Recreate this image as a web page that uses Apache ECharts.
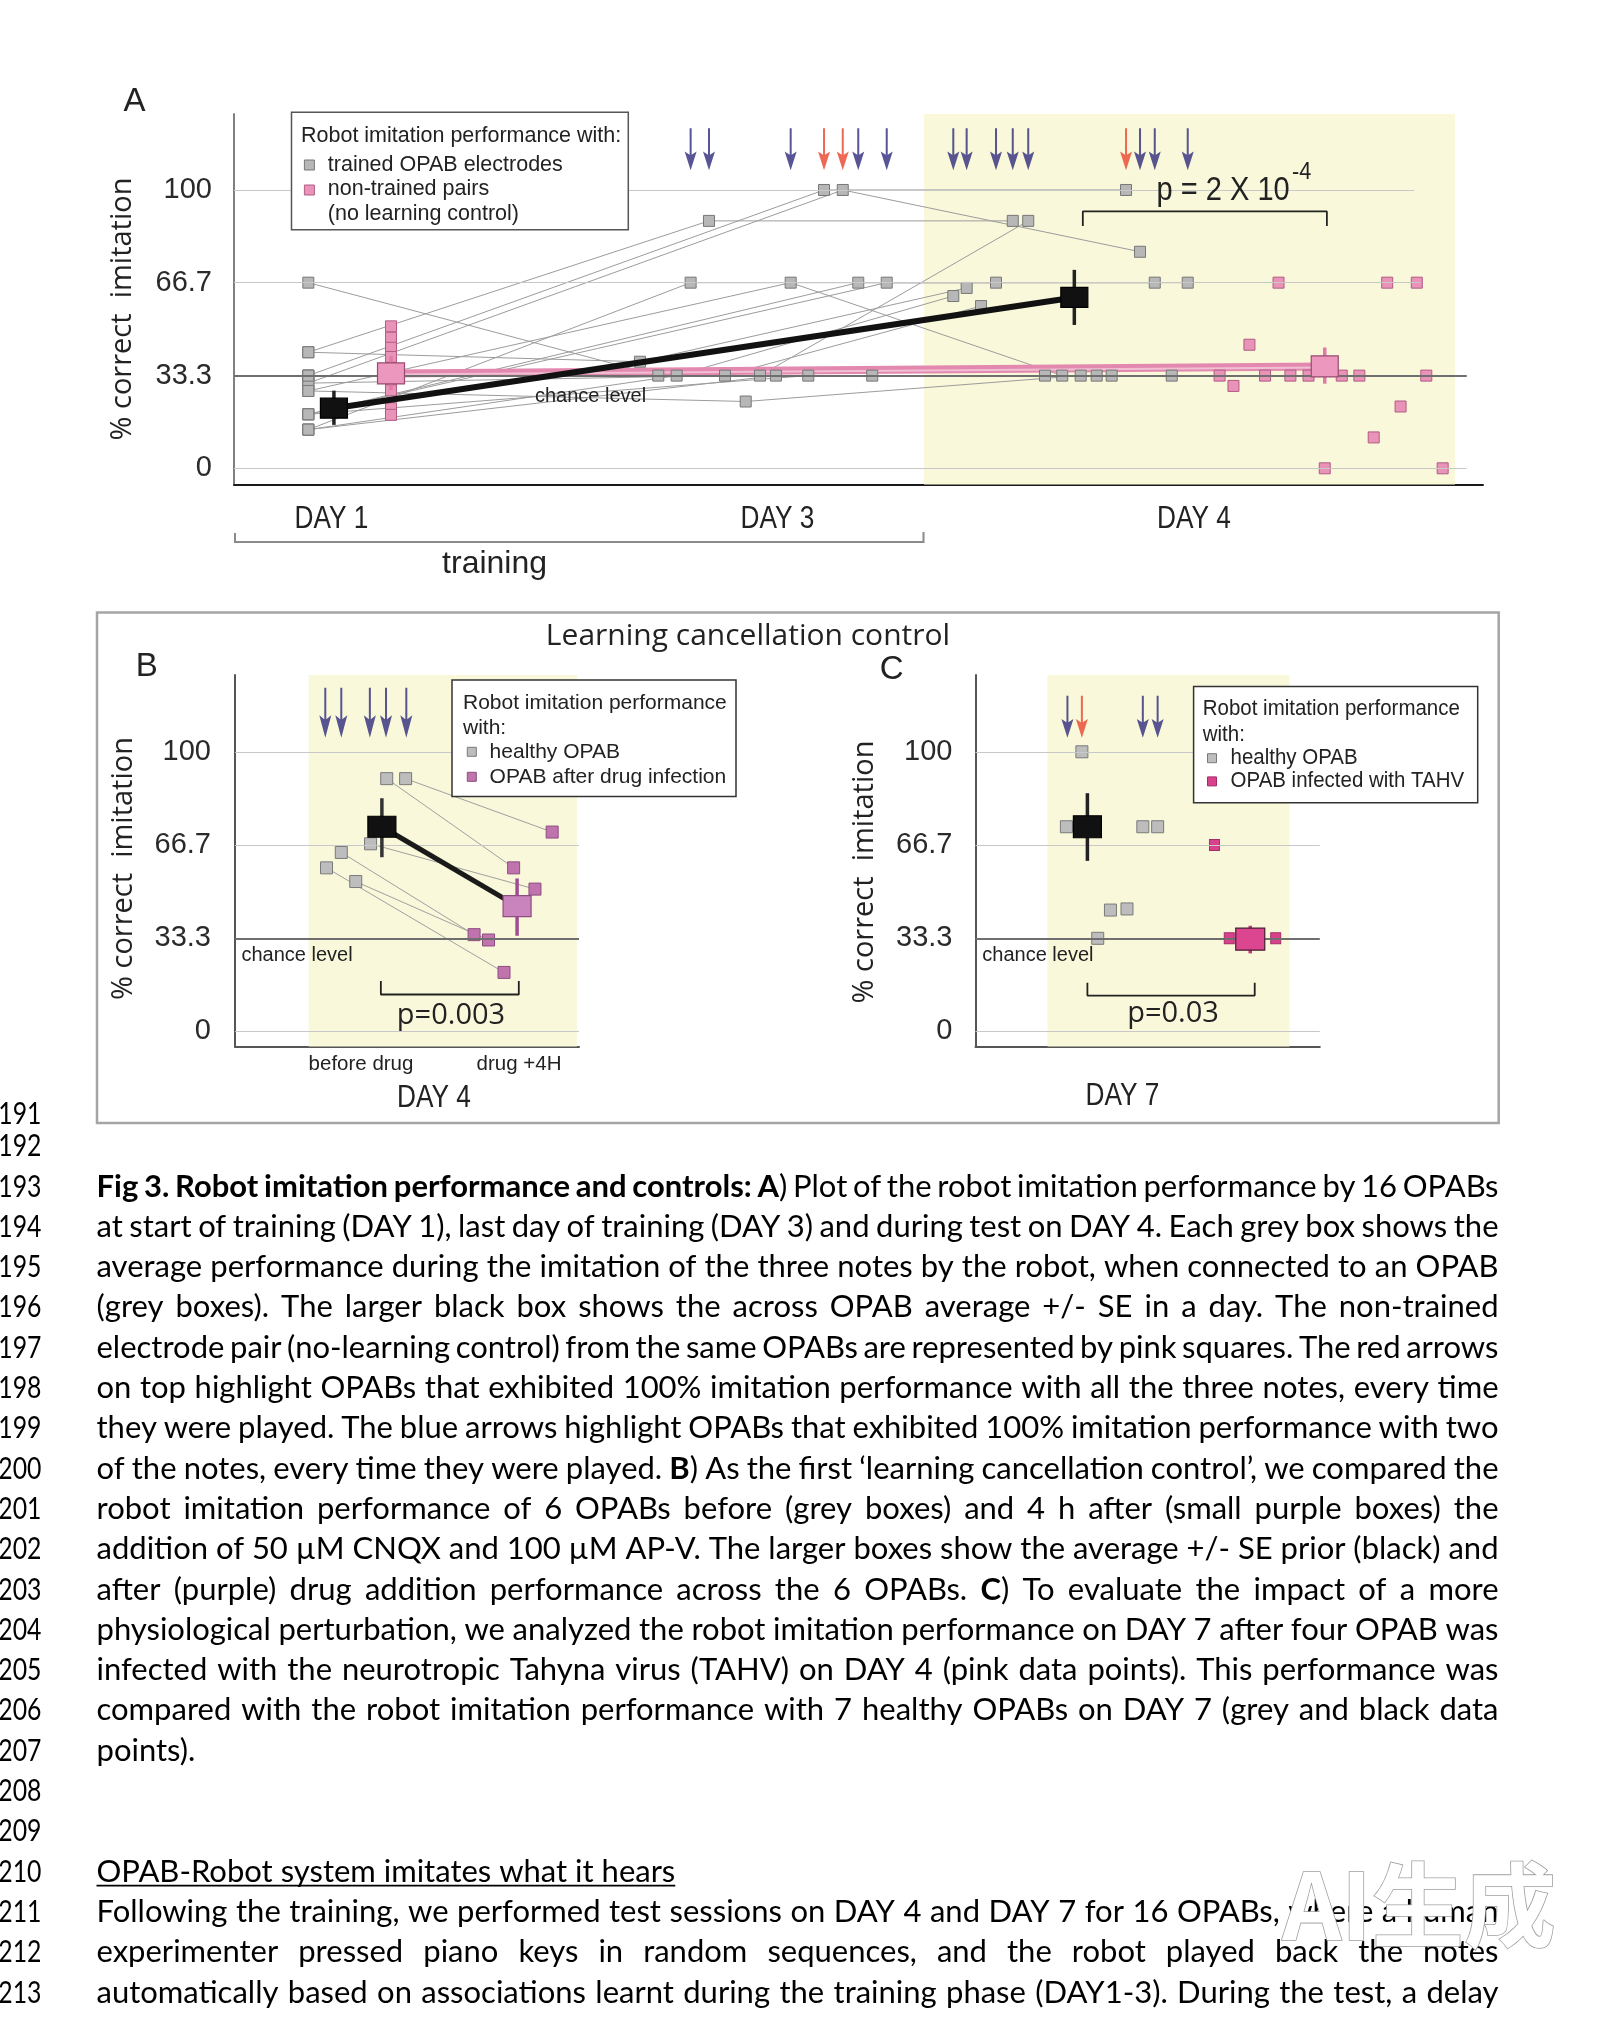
<!DOCTYPE html>
<html>
<head>
<meta charset="utf-8">
<style>
html, body { margin: 0; padding: 0; background: #fff; overflow: hidden; }
#chart { width: 1620px; height: 2025px; }
</style>
<script src="https://cdn.jsdelivr.net/npm/echarts@6/dist/echarts.min.js"></script>
</head>
<body>
<div id="chart"></div>
<script>
// panel A: x is position along the axis (0-100), y is % correct imitation
const dayOneX = 5.95
const dayOneGrey = [33.3, 30.6, 41.7, 33.3, 66.7, 13.9, 27.8, 19.4, 19.4, 41.7, 13.9, 30.6, 27.8, 13.9, 19.4, 33.3]
const dayThreeX = [47.24, 48.74, 38.03, 42.11, 33.97, 36.56, 44.57, 49.98, 52.26, 32.5, 35.44, 39.31, 40.97, 43.39, 45.98, 51.1]
const dayThreeGrey = [100, 100, 88.9, 33.3, 33.3, 66.7, 66.7, 66.7, 66.7, 38.3, 33.3, 33.3, 24.0, 33.3, 33.3, 33.3]
const dayFourX = [71.42, 72.54, 62.35, 63.59, 64.93, 73.72, 66.31, 76.36, 61.01, 58.66, 57.59, 59.81, 67.79, 69.07, 70.27, 75.08]
const dayFourGrey = [100, 77.8, 88.9, 88.9, 33.3, 66.7, 33.3, 66.7, 66.7, 64.8, 61.9, 58.3, 33.3, 33.3, 33.3, 33.3]
const pinkDayOneX = 12.57
const pinkDayOne = [51.0, 46.9, 43.3, 40.0, 36.1, 33.3, 30.6, 28.0, 21.6, 19.2]
const pinkDayFourX = [78.91, 80.02, 81.3, 82.55, 83.63, 84.58, 86.03, 87.33, 88.69, 90.1, 91.25, 92.33, 93.4, 94.7, 95.46, 96.77]
const pinkDayFour = [33.3, 29.6, 44.4, 33.3, 66.7, 33.3, 33.3, 0, 33.3, 33.3, 11.1, 66.7, 22.2, 66.7, 33.3, 0]
// [x, mean, low, high]
const greyMeansA = [[8.0, 21.6, 15.6, 27.9], [67.28, 61.4, 51.5, 71.3]]
const pinkMeansA = [[12.57, 34.1, 28.1, 40.3], [87.33, 36.6, 30.4, 43.4]]
const arrowsAX = [36.56, 38.03, 44.57, 47.24, 48.74, 49.98, 52.26, 57.59, 58.66, 61.01, 62.35, 63.59, 71.42, 72.54, 73.72, 76.36]
const arrowsAKind = ['b', 'b', 'b', 'r', 'r', 'b', 'b', 'b', 'b', 'b', 'b', 'b', 'r', 'b', 'b', 'b']
const bracketA = { x: [67.96, 87.5], bar: 92.3, tick: 87.1 }

// panel B
const beforeX = [44.1, 49.6, 39.4, 30.9, 26.6, 35.1]
const beforeY = [90.4, 90.4, 67.1, 64.0, 58.5, 53.6]
const afterX = [81.0, 92.2, 87.2, 69.5, 78.2, 73.7]
const afterY = [58.5, 71.3, 50.9, 34.6, 21.1, 32.7]
const blackMeanB = [42.7, 73.2, 62.3, 83.4]
const purpleMeanB = [82.0, 44.8, 34.2, 54.7]
const arrowsBX = [26.25, 30.9, 39.2, 43.9, 49.8]
const bracketB = { x: [42.4, 82.5], bar: 13.2, tick: 18.0 }

// panel C
const healthyX = [30.9, 26.4, 48.6, 52.9, 39.2, 44.0, 35.5]
const healthyY = [100, 73.2, 73.2, 73.2, 43.4, 43.8, 33.3]
const infectedX = [69.4, 73.7, 79.8, 87.2]
const infectedY = [66.7, 33.3, 33.3, 33.3]
const blackMeanC = [32.5, 73.2, 61.0, 85.2]
const pinkMeanC = [79.8, 33.0, 27.9, 37.8]
const arrowsCX = [26.7, 30.9, 48.6, 52.9]
const arrowsCKind = ['b', 'r', 'b', 'b']
const bracketC = { x: [32.5, 81.1], bar: 12.8, tick: 17.4 }

const tickValues = [100, 66.7, 33.3, 0]
const tickLabels = ['100', '66.7', '33.3', '0']
const gridEnds = [[94.5, 95.0, 98.7, 98.7], [63.1, 100, 100, 100], [63.3, 100, 100, 100]]
const yellowBands = [[55.24, 97.76], [21.4, 99.4], [20.9, 91.2]]

const SANS = '"Liberation Sans", Arial, sans-serif'
const OPEN = '"Open Sans", sans-serif'
const BLUE = '#2e2a7c'
const RED = '#e8432b'
const yMin = [-5.82, -5.36, -5.36]
const yMax = [127.3, 127.47, 127.47]
const labelGap = [22, 24, 23]

const chart = echarts.init(document.getElementById('chart'))

function arrowPath(h) {
  const barb = h * 0.55, notch = h * 0.63
  return `path://M5,0 L7,0 L7,${notch} L12,${barb} L6,${h} L0,${barb} L5,${notch} Z`
}

function baseSeries(g) {
  return [{
    type: 'line', xAxisIndex: g, yAxisIndex: g, data: [], z: 0, silent: true,
    markArea: {
      silent: true, itemStyle: { color: '#f9f8da' },
      data: [[{ xAxis: yellowBands[g][0], yAxis: yMin[g] }, { xAxis: yellowBands[g][1], yAxis: yMax[g] }]]
    }
  }, {
    type: 'line', xAxisIndex: g, yAxisIndex: g, data: [], z: 1, silent: true,
    markLine: {
      silent: true, symbol: ['none', 'none'], animation: false,
      label: { show: true, position: 'start', formatter: '{b}', distance: labelGap[g], color: '#2a2a2a', fontSize: 29, fontFamily: SANS },
      data: tickValues.map((t, k) => [
        { name: tickLabels[k], coord: [0, t], lineStyle: t === 33.3 ? { color: '#6f6f6f', width: 1.8, type: 'solid' } : { color: '#c8c8c8', width: 1.2, type: 'solid' } },
        { coord: [gridEnds[g][k], t] }
      ])
    }
  }]
}

function squares(g, xs, ys, fill, stroke, size, z) {
  return {
    type: 'scatter', xAxisIndex: g, yAxisIndex: g, z: z || 4, silent: true,
    symbol: 'rect', symbolSize: size,
    itemStyle: { color: fill, borderColor: stroke, borderWidth: 1, opacity: 1 },
    data: xs.map((x, i) => [x, ys[i]])
  }
}

function meanBoxes(g, rows, fill, stroke, bar, w, h) {
  return {
    type: 'custom', xAxisIndex: g, yAxisIndex: g, z: 6, silent: true, data: rows,
    renderItem: (p, api) => {
      const c = api.coord([api.value(0), api.value(1)])
      const lo = api.coord([api.value(0), api.value(2)])
      const hi = api.coord([api.value(0), api.value(3)])
      return {
        type: 'group', children: [
          { type: 'line', shape: { x1: c[0], y1: lo[1], x2: c[0], y2: hi[1] }, style: { stroke: bar, lineWidth: 3.5 } },
          { type: 'rect', shape: { x: c[0] - w / 2, y: c[1] - h / 2, width: w, height: h }, style: { fill, stroke, lineWidth: 1.2 } }
        ]
      }
    }
  }
}

function arrows(g, xs, kinds, y, h) {
  return {
    type: 'scatter', xAxisIndex: g, yAxisIndex: g, z: 6, silent: true,
    symbol: arrowPath(h), symbolSize: [12, h],
    data: xs.map((x, i) => ({ value: [x, y], itemStyle: { color: kinds[i] === 'r' ? RED : BLUE } }))
  }
}

function bracket(g, b) {
  return {
    type: 'line', xAxisIndex: g, yAxisIndex: g, z: 6, silent: true, symbol: 'none',
    lineStyle: { color: '#222', width: 1.8 },
    data: [[b.x[0], b.tick], [b.x[0], b.bar], [b.x[1], b.bar], [b.x[1], b.tick]]
  }
}

function thinLine(g, pts, color) {
  return { type: 'line', xAxisIndex: g, yAxisIndex: g, z: 2, silent: true, symbol: 'none', lineStyle: { color: color || '#9c9c9c', width: 1 }, data: pts }
}

const series = []
// A
series.push(...baseSeries(0))
dayOneGrey.forEach((v, i) => {
  series.push(thinLine(0, [[dayOneX, v], [dayThreeX[i], dayThreeGrey[i]], [dayFourX[i], dayFourGrey[i]]]))
})
series.push({ type: 'line', xAxisIndex: 0, yAxisIndex: 0, z: 3, silent: true, symbol: 'none', lineStyle: { color: '#e389b0', width: 8 }, data: pinkMeansA.map(r => [r[0], r[1]]) })
series.push({ type: 'line', xAxisIndex: 0, yAxisIndex: 0, z: 3, silent: true, symbol: 'none', lineStyle: { color: '#f1bfd4', width: 2 }, data: pinkMeansA.map(r => [r[0], r[1] - 0.4]) })
series.push(squares(0, dayOneGrey.map(() => dayOneX).concat(dayThreeX, dayFourX), dayOneGrey.concat(dayThreeGrey, dayFourGrey), '#b7b7b7', '#777', 11))
series.push(squares(0, pinkDayOne.map(() => pinkDayOneX).concat(pinkDayFourX), pinkDayOne.concat(pinkDayFour), '#ea93b9', '#b05c83', 11))
series.push({ type: 'line', xAxisIndex: 0, yAxisIndex: 0, z: 5, silent: true, symbol: 'none', lineStyle: { color: '#111', width: 6 }, data: greyMeansA.map(r => [r[0], r[1]]) })
series.push(meanBoxes(0, greyMeansA, '#111', '#000', '#222', 27, 20))
series.push(meanBoxes(0, pinkMeansA, '#ec97bd', '#9b4a70', '#e07aa8', 27, 21))
series.push(arrows(0, arrowsAX, arrowsAKind, 114.6, 42))
series.push(bracket(0, bracketA))
// B
series.push(...baseSeries(1))
beforeX.forEach((x, i) => series.push(thinLine(1, [[x, beforeY[i]], [afterX[i], afterY[i]]], '#a0a0a0')))
series.push(squares(1, beforeX, beforeY, '#bdbdbd', '#7a7a7a', 12))
series.push(squares(1, afterX, afterY, '#bf74ae', '#8e4c80', 12))
series.push({ type: 'line', xAxisIndex: 1, yAxisIndex: 1, z: 5, silent: true, symbol: 'none', lineStyle: { color: '#1a1a1a', width: 5 }, data: [[blackMeanB[0], blackMeanB[1]], [purpleMeanB[0], purpleMeanB[1]]] })
series.push(meanBoxes(1, [blackMeanB], '#111', '#000', '#333', 28, 21))
series.push(meanBoxes(1, [purpleMeanB], '#c983bd', '#8e4c80', '#a14b92', 28, 21))
series.push(arrows(1, arrowsBX, arrowsBX.map(() => 'b'), 114, 50))
series.push(bracket(1, bracketB))
// C
series.push(...baseSeries(2))
series.push(squares(2, healthyX, healthyY, '#bdbdbd', '#7a7a7a', 12))
series.push(squares(2, infectedX, infectedY, '#d8428c', '#a52c68', [10, 11]))
series.push(meanBoxes(2, [blackMeanC], '#111', '#000', '#222', 28, 22))
series.push(meanBoxes(2, [pinkMeanC], '#dc4690', '#4a1a30', '#c03a7c', 29, 22))
series.push(arrows(2, arrowsCX, arrowsCKind, 112.5, 42))
series.push(bracket(2, bracketC))

function txt(x, y, text, o) {
  o = o || {}
  const align = o.align || 'left'
  return {
    type: 'text', x, y, silent: true, z: o.z || 20, scaleX: o.sx || 1, rotation: o.rot || 0,
    style: {
      text, font: o.font || ('20px ' + SANS), fill: o.fill || '#222',
      align, textAlign: align, verticalAlign: 'middle', textVerticalAlign: 'middle',
      stroke: o.stroke, lineWidth: o.lw, shadowBlur: o.blur, shadowColor: o.shadow
    }
  }
}
function box(x, y, w, h, stroke, lw, fill) {
  return { type: 'rect', silent: true, z: 15, shape: { x, y, width: w, height: h }, style: { fill: fill || '#fff', stroke, lineWidth: lw } }
}
function swatch(cx, cy, s, fill, stroke) {
  return { type: 'rect', silent: true, z: 16, shape: { x: cx - s / 2, y: cy - s / 2, width: s, height: s }, style: { fill, stroke, lineWidth: 1 } }
}

const g = []
// panel A labels
g.push(txt(134.6, 102, 'A', { font: '33px ' + SANS, align: 'center' }))
g.push(txt(123, 309, '% correct  imitation', { font: '29px ' + OPEN, rot: Math.PI / 2, align: 'center' }))
g.push(box(291.5, 112.3, 336.8, 117.5, '#555', 1.5))
g.push(txt(301, 136.5, 'Robot imitation performance with:', { font: '21.5px ' + SANS }))
g.push(swatch(309.4, 165, 10, '#b7b7b7', '#777'))
g.push(txt(327.8, 165, 'trained OPAB electrodes', { font: '21.5px ' + SANS }))
g.push(swatch(309.4, 190, 10, '#ea93b9', '#b05c83'))
g.push(txt(327.8, 189, 'non-trained pairs', { font: '21.5px ' + SANS }))
g.push(txt(327.8, 214, '(no learning control)', { font: '21.5px ' + SANS }))
g.push(txt(535, 396, 'chance level', { font: '20px ' + SANS, z: 8 }))
g.push(txt(1156.5, 191, 'p = 2 X 10', { font: '33px ' + SANS, sx: 0.88 }))
g.push(txt(1292, 172, '-4', { font: '24px ' + SANS, sx: 0.9 }))
g.push(txt(331.5, 519, 'DAY 1', { font: '32px ' + SANS, sx: 0.82, align: 'center' }))
g.push(txt(777.5, 519, 'DAY 3', { font: '32px ' + SANS, sx: 0.82, align: 'center' }))
g.push(txt(1194, 519, 'DAY 4', { font: '32px ' + SANS, sx: 0.82, align: 'center' }))
g.push({ type: 'polyline', silent: true, z: 15, shape: { points: [[235, 533], [235, 542], [923.5, 542], [923.5, 532]] }, style: { stroke: '#8a8a8a', lineWidth: 2, fill: null } })
g.push(txt(494.6, 564.6, 'training', { font: '32px ' + SANS, align: 'center' }))

// B / C frame
g.push({ type: 'rect', silent: true, z: 1, shape: { x: 97, y: 612.5, width: 1401.7, height: 510.5 }, style: { fill: null, stroke: '#a5a5a5', lineWidth: 2.5 } })
g.push(txt(748, 636, 'Learning cancellation control', { font: '30px ' + OPEN, align: 'center' }))
g.push(txt(146.8, 667, 'B', { font: '33px ' + SANS, align: 'center' }))
g.push(txt(891.6, 669.6, 'C', { font: '33px ' + SANS, align: 'center' }))
g.push(txt(124, 868.5, '% correct  imitation', { font: '29px ' + OPEN, rot: Math.PI / 2, align: 'center' }))
g.push(txt(864.5, 872, '% correct  imitation', { font: '29px ' + OPEN, rot: Math.PI / 2, align: 'center' }))
// legend B
g.push(box(452, 680, 284, 116.4, '#333', 1.5))
g.push(txt(463, 703.6, 'Robot imitation performance', { font: '21px ' + SANS }))
g.push(txt(463, 728.6, 'with:', { font: '21px ' + SANS }))
g.push(swatch(471.8, 751.8, 9, '#bdbdbd', '#7a7a7a'))
g.push(txt(489.6, 751.8, 'healthy OPAB', { font: '21px ' + SANS }))
g.push(swatch(471.8, 776.8, 9, '#bf74ae', '#8e4c80'))
g.push(txt(489.6, 776.8, 'OPAB after drug infection', { font: '21px ' + SANS }))
// legend C
g.push(box(1193.6, 686.4, 284.1, 116.4, '#333', 1.5))
g.push(txt(1202.8, 708.9, 'Robot imitation performance', { font: '22px ' + SANS, sx: 0.93 }))
g.push(txt(1202.8, 735, 'with:', { font: '22px ' + SANS, sx: 0.93 }))
g.push(swatch(1212, 758.2, 9, '#bdbdbd', '#7a7a7a'))
g.push(txt(1230.6, 758.2, 'healthy OPAB', { font: '22px ' + SANS, sx: 0.93 }))
g.push(swatch(1212, 781.4, 9, '#d8428c', '#a52c68'))
g.push(txt(1230.6, 781.4, 'OPAB infected with TAHV', { font: '22px ' + SANS, sx: 0.93 }))
g.push(txt(241.4, 955, 'chance level', { font: '20px ' + SANS, z: 8 }))
g.push(txt(982.3, 955.3, 'chance level', { font: '20px ' + SANS, z: 8 }))
g.push(txt(451, 1016, 'p=0.003', { font: '29px ' + OPEN, align: 'center' }))
g.push(txt(1173, 1014, 'p=0.03', { font: '29px ' + OPEN, align: 'center' }))
g.push(txt(361, 1064, 'before drug', { font: '20.5px ' + SANS, align: 'center' }))
g.push(txt(519, 1064, 'drug +4H', { font: '20.5px ' + SANS, align: 'center' }))
g.push(txt(434, 1098, 'DAY 4', { font: '32px ' + SANS, sx: 0.82, align: 'center' }))
g.push(txt(1122.5, 1096.4, 'DAY 7', { font: '32px ' + SANS, sx: 0.82, align: 'center' }))

// body text (justified by measuring words)
const BODY = 'Lato, "Open Sans", sans-serif'
const bodySize = 31
const textLeft = 96.5, textRight = 1498.5
const bodyLines = [
  [193, '**Fig 3. Robot imitation performance and controls: A**) Plot of the robot imitation performance by 16 OPABs', true],
  [194, 'at start of training (DAY 1), last day of training (DAY 3) and during test on DAY 4. Each grey box shows the', true],
  [195, 'average performance during the imitation of the three notes by the robot, when connected to an OPAB', true],
  [196, '(grey boxes). The larger black box shows the across OPAB average +/- SE in a day. The non-trained', true],
  [197, 'electrode pair (no-learning control) from the same OPABs are represented by pink squares. The red arrows', true],
  [198, 'on top highlight OPABs that exhibited 100% imitation performance with all the three notes, every time', true],
  [199, 'they were played. The blue arrows highlight OPABs that exhibited 100% imitation performance with two', true],
  [200, 'of the notes, every time they were played. **B**) As the first \u2018learning cancellation control\u2019, we compared the', true],
  [201, 'robot imitation performance of 6 OPABs before (grey boxes) and 4 h after (small purple boxes) the', true],
  [202, 'addition of 50 \u00b5M CNQX and 100 \u00b5M AP-V. The larger boxes show the average +/- SE prior (black) and', true],
  [203, 'after (purple) drug addition performance across the 6 OPABs. **C**) To evaluate the impact of a more', true],
  [204, 'physiological perturbation, we analyzed the robot imitation performance on DAY 7 after four OPAB was', true],
  [205, 'infected with the neurotropic Tahyna virus (TAHV) on DAY 4 (pink data points). This performance was', true],
  [206, 'compared with the robot imitation performance with 7 healthy OPABs on DAY 7 (grey and black data', true],
  [207, 'points).', false],
  [210, 'OPAB-Robot system imitates what it hears', false, true],
  [211, 'Following the training, we performed test sessions on DAY 4 and DAY 7 for 16 OPABs, where a human', true],
  [212, 'experimenter pressed piano keys in random sequences, and the robot played back the notes', true],
  [213, 'automatically based on associations learnt during the training phase (DAY1-3). During the test, a delay', true]
]
function lineY(n) {
  if (n === 191) return 1114
  if (n === 192) return 1146
  return 1186.5 + (n - 193) * 40.3
}
const ctx = document.createElement('canvas').getContext('2d')
function fontOf(bold, size) { return (bold ? 'bold ' : '') + size + 'px ' + BODY }
function widthOf(t, bold, size) { ctx.font = fontOf(bold, size); return ctx.measureText(t).width }

for (let n = 191; n <= 213; n++) {
  g.push(txt(41.5, lineY(n), String(n), { font: bodySize + 'px ' + BODY, fill: '#000', align: 'right', sx: 0.8 }))
}
bodyLines.forEach(([n, str, justify, underline]) => {
  const y = lineY(n)
  let bold = false
  const words = str.split(' ').map(w => {
    const segs = []
    w.split('**').forEach((part, k) => {
      if (k > 0) bold = !bold
      if (part) segs.push({ t: part, b: bold })
    })
    return segs
  })
  let size = bodySize
  const wordW = s => words.map(ws => ws.reduce((a, sg) => a + widthOf(sg.t, sg.b, s), 0))
  let ww = wordW(size)
  let total = ww.reduce((a, b) => a + b, 0)
  const span = textRight - textLeft
  const minGap = 5
  if (justify && total + minGap * (words.length - 1) > span) {
    size = size * (span - minGap * (words.length - 1)) / total
    ww = wordW(size)
    total = ww.reduce((a, b) => a + b, 0)
  }
  const gap = justify ? (span - total) / (words.length - 1) : widthOf(' ', false, size)
  let x = textLeft
  words.forEach((ws, i) => {
    ws.forEach(sg => {
      g.push(txt(x, y, sg.t, { font: fontOf(sg.b, size), fill: '#000' }))
      x += widthOf(sg.t, sg.b, size)
    })
    if (i < words.length - 1) x += gap
  })
  if (underline) {
    g.push({ type: 'line', silent: true, z: 20, shape: { x1: textLeft, y1: y + 14, x2: x, y2: y + 14 }, style: { stroke: '#000', lineWidth: 1.6 } })
  }
})
// watermark
g.push(txt(1419, 1905, 'AI生成', { font: 'bold 92px "Noto Sans CJK SC", sans-serif', fill: '#ffffff', stroke: '#9e9e9e', lw: 1.6, blur: 16, shadow: 'rgba(0,0,0,0.35)', align: 'center', z: 40 }))

const axisBase = i => ({ gridIndex: i, type: 'value', axisLabel: { show: false }, axisTick: { show: false }, splitLine: { show: false } })
chart.setOption({
  animation: false,
  backgroundColor: '#fff',
  grid: [
    { left: 234, top: 114, width: 1249, height: 370.5, outerBoundsMode: 'none', containLabel: false },
    { left: 235, top: 675, width: 344, height: 371.4, outerBoundsMode: 'none', containLabel: false },
    { left: 975.5, top: 675, width: 344.3, height: 371.4, outerBoundsMode: 'none', containLabel: false }
  ],
  xAxis: [0, 1, 2].map(i => Object.assign(axisBase(i), { min: 0, max: 100, axisLine: { show: true, onZero: false, lineStyle: { color: i ? '#555' : '#1a1a1a', width: 2 } } })),
  yAxis: [0, 1, 2].map(i => Object.assign(axisBase(i), { min: yMin[i], max: yMax[i], axisLine: { show: true, onZero: false, lineStyle: { color: i ? '#555' : '#808080', width: 2 } } })),
  series,
  graphic: { elements: g }
})
</script>
</body>
</html>
